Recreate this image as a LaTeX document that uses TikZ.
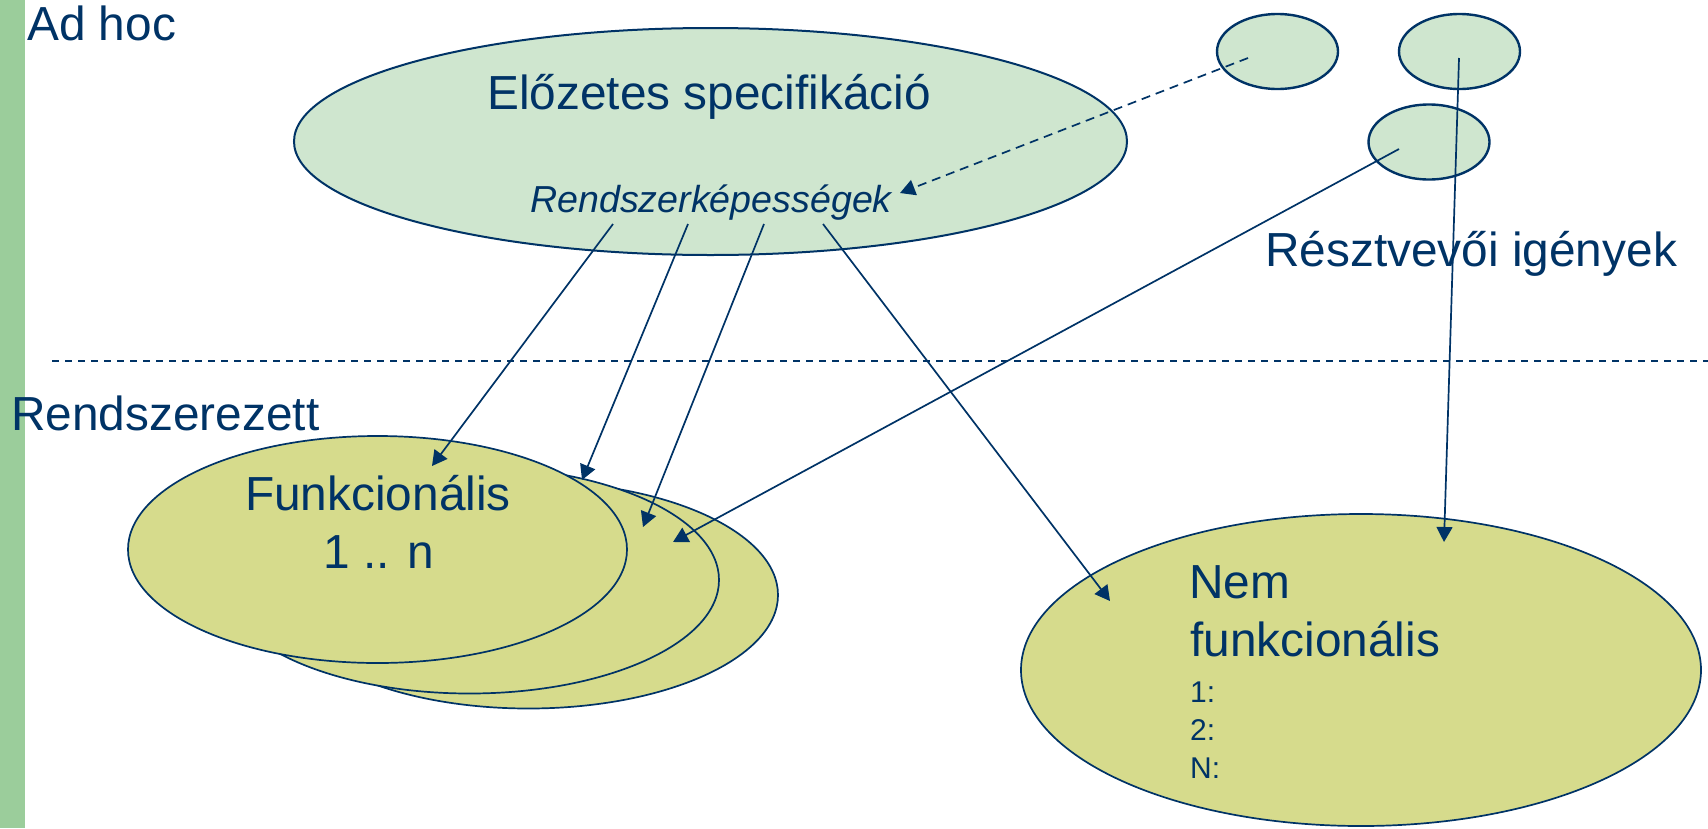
\documentclass[tikz,border=0pt]{standalone}
\usepackage{fontspec}
\setmainfont{Liberation Sans}
\usetikzlibrary{shapes.geometric,arrows.meta}
\definecolor{navy}{RGB}{0,51,102}
\definecolor{barGreen}{RGB}{155,205,155}
\definecolor{paleGreen}{RGB}{207,230,207}
\definecolor{oliveFill}{RGB}{214,219,140}
\begin{document}
\begin{tikzpicture}[x=1pt,y=-1pt,
  bubble/.style={ellipse, draw=navy, line width=2pt, inner sep=0pt, outer sep=0pt},
  source/.style={bubble, fill=paleGreen},
  target/.style={bubble, fill=oliveFill, line width=1.7pt,
                 minimum width=499pt, minimum height=227pt},
  need/.style={source, line width=2.4pt, minimum width=121pt, minimum height=75pt},
  link/.style={draw=navy, line width=1.7pt, -{Triangle[length=15pt,width=16pt]}},
  hint/.style={link, dash pattern=on 9pt off 6pt},
  big/.style={text=navy, inner sep=0pt, anchor=base west,
              font=\fontsize{47.8}{57}\selectfont},
  small/.style={big, font=\fontsize{30}{36}\selectfont},
]
\useasboundingbox (0,0) rectangle (1708,828);

% side bar
\fill[barGreen] (0,0) rectangle (25,828);

% preliminary specification and stakeholder needs
\node[source, minimum width=833pt, minimum height=227pt] (prelim) at (710.5,141.5) {};
\node[need] (needA) at (1277.5,51.5) {};
\node[need] (needB) at (1459.5,51.5) {};
\node[need] (needC) at (1429,142) {};

% functional requirement stack (back to front)
\node[target] (func3) at (528.5,595) {};
\node[target] (func2) at (469.5,580) {};
\node[target] (func1) at (377.5,549.5) {};

% non-functional requirements
\node[target, minimum width=680pt, minimum height=312pt] (nonfunc) at (1361,670) {};

% labels
\node[big] (adhoc) at (27,40) {Ad hoc};
\node[big] (systematic) at (11,430) {Rendszerezett};
\node[big] (prelimText) at (487,109) {Előzetes specifikáció};
\node[big, font=\fontsize{37.6}{45}\selectfont\itshape] (caps) at (530,212) {Rendszerképességek};
\node[big] (needsText) at (1265,266) {Résztvevői igények};
\node[big, anchor=base] (funcText) at (378,510) {Funkcionális};
\node[big, anchor=base] (funcRange) at (379,568) {1 .. n};
\node[big] (nemText) at (1189,598) {Nem};
\node[big] (nfText) at (1190,656) {funkcionális};
\node[small] (nf1) at (1190,702) {1:};
\node[small] (nf2) at (1190,740) {2:};
\node[small] (nfN) at (1190,778) {N:};

% separator between ad hoc and systematic levels
\coordinate (sepL) at (52,361);
\coordinate (sepR) at (1708,361);
\draw[navy, line width=1.6pt, dash pattern=on 7pt off 6pt] (sepL) -- (sepR);

% connector end points
\coordinate (capsA) at (613,224);
\coordinate (capsB) at (688,224);
\coordinate (capsC) at (764,224);
\coordinate (capsD) at (823,224);
\coordinate (needAout) at (1248,58);
\coordinate (needBout) at (1459,58);
\coordinate (needCout) at (1399,149);
\coordinate (capsIn) at (900,193);
\coordinate (func1in) at (432,466);
\coordinate (func2in) at (582,480);
\coordinate (func3in) at (643,527);
\coordinate (func3inB) at (673,542);
\coordinate (nonfuncInA) at (1110,601);
\coordinate (nonfuncInB) at (1444,542);

% connectors
\draw[hint] (needAout) -- (capsIn);
\draw[link] (capsA) -- (func1in);
\draw[link] (capsB) -- (func2in);
\draw[link] (capsC) -- (func3in);
\draw[link] (capsD) -- (nonfuncInA);
\draw[link] (needCout) -- (func3inB);
\draw[link] (needBout) -- (nonfuncInB);
\end{tikzpicture}
\end{document}
